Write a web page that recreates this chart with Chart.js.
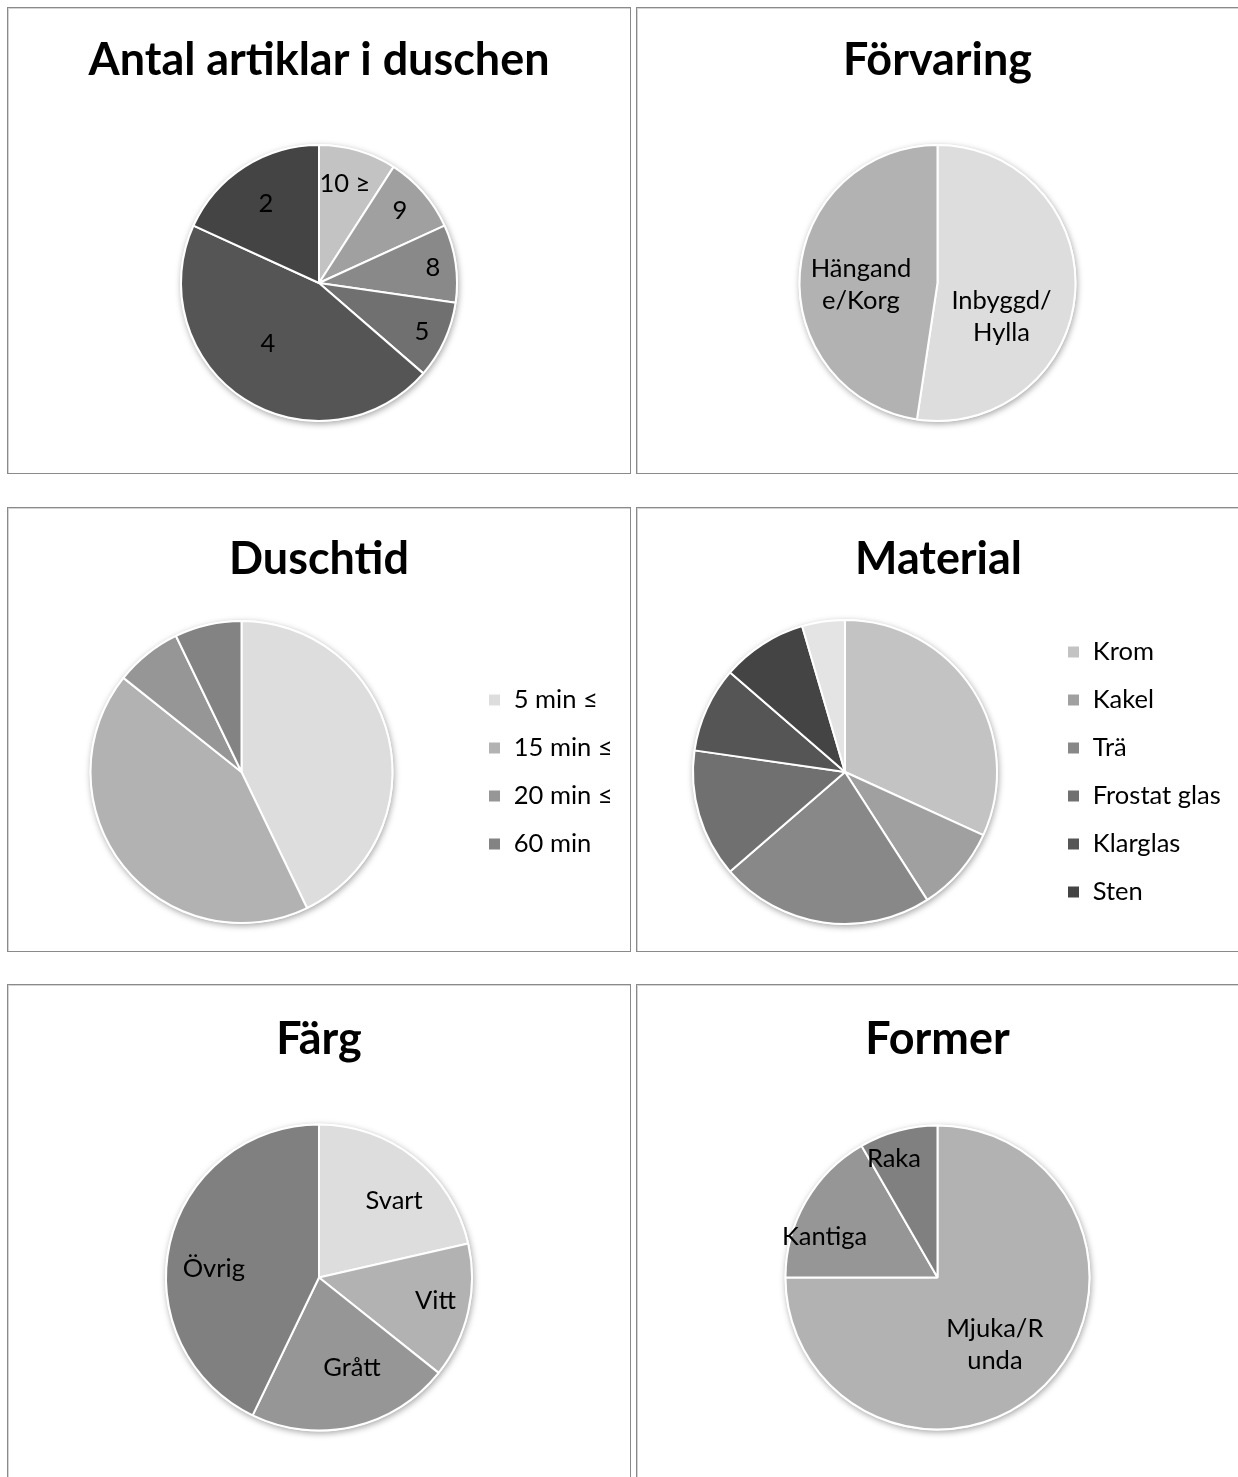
<!DOCTYPE html>
<html>
<head>
<meta charset="utf-8">
<script src="https://cdn.jsdelivr.net/npm/chart.js@4.4.1/dist/chart.umd.min.js"></script>
<style>
html, body { margin: 0; padding: 0; background: #fff; }
body { width: 1238px; height: 1477px; position: relative; overflow: hidden; }
.panel { position: absolute; box-sizing: border-box; border: 1px solid #8a8a8a; box-shadow: inset 1px 1px 0 #d4d4d4; }
canvas { position: absolute; }
</style>
</head>
<body>
<script>
// ---------------- DATA ----------------
const antalTitle = 'Antal artiklar i duschen';
const antalLabels = ['10 ≥', '9', '8', '5', '4', '2'];
const antalValues = [1, 1, 1, 1, 5, 2];

const forvaringTitle = 'Förvaring';
const forvaringLabels = [['Inbyggd/', 'Hylla'], ['Hängand', 'e/Korg']];
const forvaringValues = [11, 10];

const duschtidTitle = 'Duschtid';
const duschtidLabels = ['5 min ≤', '15 min ≤', '20 min ≤', '60 min'];
const duschtidValues = [6, 6, 1, 1];

const materialTitle = 'Material';
const materialLabels = ['Krom', 'Kakel', 'Trä', 'Frostat glas', 'Klarglas', 'Sten', 'Övrigt'];
const materialValues = [7, 2, 5, 3, 2, 2, 1];

const fargTitle = 'Färg';
const fargLabels = ['Svart', 'Vitt', 'Grått', 'Övrig'];
const fargValues = [3, 2, 3, 6];

const formerTitle = 'Former';
const formerLabels = [['Mjuka/R', 'unda'], 'Kantiga', 'Raka'];
const formerValues = [9, 2, 1];

// ---------------- STYLE ----------------
const FONT = 'Lato';
const mctx = document.createElement('canvas').getContext('2d');
function fitSize(text, weight, target) {
  mctx.font = weight + ' 100px ' + FONT;
  return 100 * target / mctx.measureText(text).width;
}
const titleSize = fitSize('Antal artiklar i duschen', 'bold', 461);
const labelSize = fitSize('Hängand', 'normal', 94) * 1.07;
const labelLineHeight = 32;
const legendRowGap = 48;

Chart.defaults.font.family = FONT;
Chart.defaults.color = '#000';

// draws a soft shadow under the whole pie
const shadowPlugin = {
  id: 'pieShadow',
  beforeDatasetsDraw(chart) {
    const el = chart.getDatasetMeta(0).data[0];
    if (!el) return;
    const ctx = chart.ctx;
    ctx.save();
    ctx.shadowColor = 'rgba(0,0,0,0.35)';
    ctx.shadowBlur = 6;
    ctx.shadowOffsetX = 1;
    ctx.shadowOffsetY = 2;
    ctx.beginPath();
    ctx.arc(el.x, el.y, el.outerRadius + 1, 0, Math.PI * 2);
    ctx.fillStyle = '#fff';
    ctx.fill();
    ctx.restore();
  }
};

// category labels drawn inside slices
const sliceLabelPlugin = {
  id: 'sliceLabels',
  afterDatasetsDraw(chart, args, opts) {
    if (!opts || !opts.place) return;
    const ctx = chart.ctx;
    const meta = chart.getDatasetMeta(0);
    ctx.save();
    ctx.font = labelSize + 'px ' + FONT;
    ctx.fillStyle = '#000';
    ctx.textAlign = 'center';
    ctx.textBaseline = 'middle';
    meta.data.forEach((el, i) => {
      const pl = opts.place[i];
      if (!pl) return;
      const a = (el.startAngle + el.endAngle) / 2 + pl[1] * Math.PI / 180;
      const R = el.outerRadius * pl[0];
      const x = el.x + Math.cos(a) * R;
      const y = el.y + Math.sin(a) * R;
      const lab = chart.data.labels[i];
      const lines = Array.isArray(lab) ? lab : [lab];
      lines.forEach((ln, j) => {
        ctx.fillText(ln, x, y + (j - (lines.length - 1) / 2) * labelLineHeight);
      });
    });
    ctx.restore();
  }
};

// fixes the legend box width so the title stays centred on the panel
const legendWidthPlugin = {
  id: 'legendWidth',
  beforeLayout(chart, args, opts) {
    const lg = chart.legend;
    if (!lg || lg._wPatched || !opts || !opts.width) return;
    const orig = lg.fit.bind(lg);
    lg.fit = function () { orig(); this.width = opts.width; };
    lg._wPatched = true;
  }
};

function makePanel(spec) {
  const panel = document.createElement('div');
  panel.className = 'panel';
  panel.style.left = spec.box[0] + 'px';
  panel.style.top = spec.box[1] + 'px';
  panel.style.width = spec.box[2] + 'px';
  panel.style.height = spec.box[3] + 'px';
  document.body.appendChild(panel);

  const innerLeft = spec.box[0] + 1;
  const innerTop = spec.box[1] + 1;
  const lh = titleSize * 1.2;
  const titleT = spec.titleY - innerTop;
  const titlePadTop = titleT - lh / 2;
  const T = titleT + lh / 2;
  const cyC = spec.cy - innerTop;
  const H = Math.ceil(2 * cyC - T);
  const pb = T + H - 2 * cyC;

  let left, W, padX, legendOpts, legendW = 0;
  const legendPad = legendRowGap - labelSize;
  if (spec.legend) {
    left = innerLeft;
    W = Math.round(2 * (spec.tx - innerLeft));
    legendW = 2 * (spec.tx - spec.cx);
    const legendLeftC = spec.boxLeft - legendPad - left;
    padX = W - legendW - legendLeftC;
    legendOpts = {
      display: true,
      position: 'right',
      align: 'center',
      fullSize: false,
      labels: {
        boxWidth: 13,
        boxHeight: 13,
        padding: legendPad,
        color: '#000',
        font: { family: FONT, size: labelSize },
        filter: (item) => spec.legendCount == null || item.index < spec.legendCount
      }
    };
  } else {
    left = Math.floor(spec.cx - 300);
    W = Math.round(2 * (spec.cx - left));
    padX = 0;
    legendOpts = { display: false };
  }

  const canvas = document.createElement('canvas');
  canvas.width = W;
  canvas.height = H;
  canvas.style.left = left + 'px';
  canvas.style.top = innerTop + 'px';
  canvas.style.width = W + 'px';
  canvas.style.height = H + 'px';
  document.body.appendChild(canvas);

  new Chart(canvas, {
    type: 'pie',
    data: {
      labels: spec.labels,
      datasets: [{
        data: spec.values,
        backgroundColor: spec.colors,
        borderColor: '#ffffff',
        borderWidth: 2,
        radius: spec.r
      }]
    },
    options: {
      responsive: false,
      animation: false,
      devicePixelRatio: 1,
      layout: { padding: { top: 0, bottom: pb, left: padX, right: padX } },
      plugins: {
        title: {
          display: true,
          text: spec.title,
          color: '#000',
          font: { family: FONT, size: titleSize, weight: 'bold', lineHeight: 1.2 },
          padding: { top: titlePadTop, bottom: 0 }
        },
        legend: legendOpts,
        tooltip: { enabled: false },
        sliceLabels: { place: spec.place },
        legendWidth: { width: legendW }
      }
    },
    plugins: [shadowPlugin, sliceLabelPlugin, legendWidthPlugin]
  });
}

const specs = [
  { title: antalTitle, labels: antalLabels, values: antalValues,
    colors: ['#c3c3c3', '#a0a0a0', '#898989', '#707070', '#555555', '#444444'],
    box: [7, 7, 624, 467], titleY: 60.5, cx: 319, cy: 283, r: 138,
    place: [[0.74, -1.7], [0.785, -0.7], [0.833, 0.7], [0.826, 0.9], [0.576, 7.2], [0.69, -1.2]] },
  { title: forvaringTitle, labels: forvaringLabels, values: forvaringValues,
    colors: ['#dddddd', '#b2b2b2'],
    box: [636, 7, 624, 467], titleY: 60.5, cx: 937.5, cy: 283, r: 138,
    place: [[0.525, 23.7], [0.555, -5.8]] },
  { title: duschtidTitle, labels: duschtidLabels, values: duschtidValues,
    colors: ['#dddddd', '#b2b2b2', '#969696', '#838383'],
    box: [7, 507, 624, 445], titleY: 559.5, cx: 241.5, cy: 772, r: 151,
    legend: true, tx: 319, boxLeft: 488 },
  { title: materialTitle, labels: materialLabels, values: materialValues,
    colors: ['#c3c3c3', '#a0a0a0', '#888888', '#707070', '#555555', '#444444', '#e4e4e4'],
    box: [636, 507, 624, 445], titleY: 559.5, cx: 845, cy: 772, r: 152,
    legend: true, tx: 938.5, boxLeft: 1067, legendCount: 6 },
  { title: fargTitle, labels: fargLabels, values: fargValues,
    colors: ['#dddddd', '#b2b2b2', '#969696', '#808080'],
    box: [7, 984, 624, 600], titleY: 1040, cx: 319, cy: 1277.5, r: 153,
    place: [[0.70, 6.0], [0.776, -1.7], [0.63, -7.2], [0.69, -8.0]] },
  { title: formerTitle, labels: formerLabels, values: formerValues,
    colors: ['#b2b2b2', '#969696', '#808080'],
    box: [636, 984, 624, 600], titleY: 1040, cx: 937.5, cy: 1277.5, r: 152,
    place: [[0.58, 4.4], [0.79, -10], [0.83, -5.2]] }
];

specs.forEach(makePanel);
</script>
</body>
</html>
